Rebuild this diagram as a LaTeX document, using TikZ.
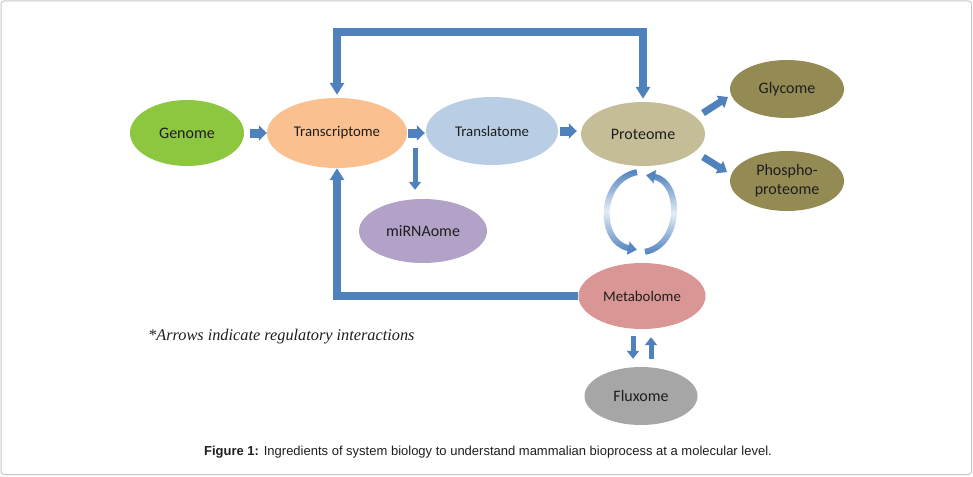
\documentclass[tikz,border=0pt]{standalone}
\usepackage{fontspec}
\setmainfont{Carlito}
\newfontfamily\notefont{Liberation Serif}
\newfontfamily\capfont{Liberation Sans}
\usetikzlibrary{shapes.geometric,arrows.meta,calc,fadings}
\definecolor{arrowblue}{RGB}{79,129,189}
\definecolor{textdark}{RGB}{30,30,30}
\definecolor{cGenome}{RGB}{141,198,63}
\definecolor{cTrans}{RGB}{250,192,144}
\definecolor{cTransl}{RGB}{185,205,229}
\definecolor{cProt}{RGB}{196,189,151}
\definecolor{cOlive}{RGB}{148,138,84}
\definecolor{cMir}{RGB}{179,162,199}
\definecolor{cMeta}{RGB}{217,150,148}
\definecolor{cFlux}{RGB}{166,166,166}
\tikzfading[name=midfade, top color=transparent!0, bottom color=transparent!0, middle color=transparent!85]
\begin{document}
\begin{tikzpicture}[x=1pt,y=-1pt,
  om/.style={ellipse, inner sep=0pt, text=textdark, align=center,
    font=\fontsize{14.8}{18}\selectfont},
  omlarge/.style={om, font=\fontsize{16}{19}\selectfont},
  blk/.style={draw=arrowblue, line width=9pt, -{Triangle[width=15pt,length=8pt]}},
  loopline/.style={draw=arrowblue, line width=7.5pt, line join=miter},
  midarrow/.style={draw=arrowblue, line width=5pt, -{Triangle[width=12pt,length=8pt]}},
  diagarrow/.style={draw=arrowblue, line width=7pt, -{Triangle[width=14pt,length=9pt]}},
  curvarrow/.style={draw=arrowblue, line width=6pt, -{Triangle[width=13pt,length=9pt]}}]
\useasboundingbox (0,0) rectangle (973,476);
\draw[gray!45, line width=1pt, rounded corners=3pt] (1,1) rectangle (971.5,474.5);

% nodes
\node[omlarge, fill=cGenome, minimum width=114pt, minimum height=66pt] (ge) at (187,133) {Genome};
\node[om, fill=cTrans, minimum width=140pt, minimum height=70pt] (tr) at (337,133) {Transcriptome};
\node[om, fill=cTransl, minimum width=132pt, minimum height=68pt] (tl) at (492,131) {Translatome};
\node[omlarge, fill=cProt, minimum width=124pt, minimum height=64pt] (pr) at (643,134) {Proteome};
\node[omlarge, fill=cOlive, minimum width=114pt, minimum height=58pt] (gl) at (787,89) {Glycome};
\node[omlarge, fill=cOlive, minimum width=114pt, minimum height=60pt] (ph) at (787,181) {Phospho-\\proteome};
\node[omlarge, fill=cMir, minimum width=128pt, minimum height=64pt] (mi) at (423,231) {miRNAome};
\node[om, fill=cMeta, minimum width=127pt, minimum height=66pt] (me) at (642,296) {Metabolome};
\node[omlarge, fill=cFlux, minimum width=113pt, minimum height=58pt] (fl) at (641,396) {Fluxome};

% main chain
\draw[blk, shorten <=6pt] (ge) -- (tr);
\draw[blk] ([xshift=1pt]tr.east) -- ([xshift=-1pt]tr.east -| tl.west);
\draw[blk] ([xshift=2pt]tl.east) -- ([xshift=-4pt]tl.east -| pr.west);

% top loop
\coordinate (topy) at (0,32);
\draw[loopline, {Triangle[width=14pt,length=12pt]}-{Triangle[width=14pt,length=12pt]}]
  ([yshift=3pt]tr.north) -- (tr.north |- topy) -- (pr.north |- topy) -- ([yshift=3pt]pr.north);

% bottom loop
\draw[loopline, -{Triangle[width=14pt,length=12pt]}] (me.west) -- (me.west -| tr.south) -- (tr.south);

% transcriptome -> miRNAome
\draw[midarrow] ($(tr.center)+(78,15)$) -- ($(mi.north)+(-8,-9)$);

% proteome -> glycome / phosphoproteome
\draw[diagarrow] ($(pr.center)+(60,-21)$) -- ($(gl.center)+(-59,8)$);
\draw[diagarrow] ($(pr.center)+(60,23)$) -- ($(ph.center)+(-60,-9)$);

% proteome <-> metabolome cycle
\draw[curvarrow, path fading=midfade] ($(pr.south)+(-6,6)$) .. controls (598,180) and (598,242) .. ($(me.north)+(-5,-13)$);
\draw[curvarrow, path fading=midfade] ($(me.north)+(3,-11)$) .. controls (682,245) and (682,182) .. ($(pr.south)+(3,9)$);

% metabolome <-> fluxome
\draw[midarrow] ($(me.south)+(-9,7)$) -- ($(fl.north)+(-8,-8)$);
\draw[midarrow] ($(fl.north)+(10,-8)$) -- ($(me.south)+(9,8)$);

% texts
\node[anchor=west, inner sep=0pt, text=textdark, font=\notefont\itshape\fontsize{16.3}{19}\selectfont] (note) at (148,337) {*Arrows indicate regulatory interactions};
\node[text=textdark, font=\capfont\fontsize{13}{15}\selectfont] (cap) at (488,452) {\textbf{Figure 1:} Ingredients of system biology to understand mammalian bioprocess at a molecular level.};
\end{tikzpicture}
\end{document}
